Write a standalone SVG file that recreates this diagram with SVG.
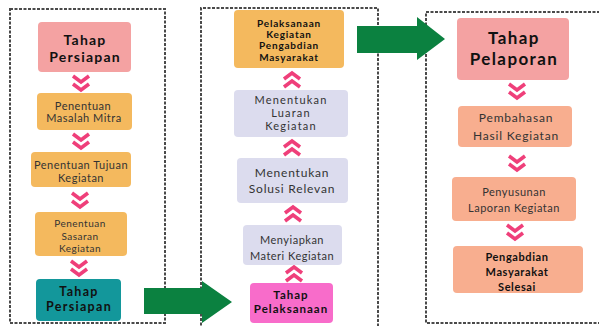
<svg xmlns="http://www.w3.org/2000/svg" width="599" height="326" viewBox="0 0 599 326">
<style>
.frame{fill:none;stroke:#4a4a4a;stroke-width:2;stroke-dasharray:3 1.5}
.pink{fill:#F4A2A2}
.orange{fill:#F4B95E}
.teal{fill:#13979B}
.lav{fill:#DCDCEE}
.mag{fill:#F86CCA}
.salmon{fill:#F8AE8F}
.arrow{fill:#0B8140}
.chev{fill:none;stroke:#EF3F7A;stroke-width:3.6;stroke-linejoin:miter}
text{font-family:Lato,"Open Sans","DejaVu Sans",sans-serif;fill:#222;text-anchor:middle}
.h{font-weight:bold;font-size:14px;letter-spacing:1.2px;fill:#111}
.h13{font-weight:bold;font-size:12.5px;letter-spacing:1.3px;fill:#111}
.hb{font-weight:bold;font-size:17px;letter-spacing:1.4px;fill:#111}
.r{font-size:11px;letter-spacing:0.5px;fill:#333}
.r12{font-size:12px;letter-spacing:0.8px;fill:#333}
.r11{font-size:11px;letter-spacing:1.2px;fill:#333}
.s{font-size:10px;letter-spacing:0.5px;fill:#333}
.b10{font-weight:bold;font-size:10px;letter-spacing:0.8px;fill:#111}
.b11{font-weight:bold;font-size:11px;letter-spacing:0.6px;fill:#111}
.b12{font-weight:bold;font-size:11.5px;letter-spacing:1px;fill:#111}
</style>
<defs>
<g id="down"><path class="chev" d="M-8,-7 L0,-1 L8,-7 M-8,1 L0,7 L8,1"/></g>
<g id="up"><path class="chev" d="M-8,7 L0,1 L8,7 M-8,-1 L0,-7 L8,-1"/></g>
</defs>

<g id="frames">
<rect class="frame" x="10" y="9" width="155" height="314"/>
<path class="frame" d="M201,330 L201,8 L378,8 L378,330"/>
<path class="frame" d="M600,12 L426,12 L426,323 L600,323"/>
</g>

<g id="connectors">
<use href="#down" x="81" y="83"/>
<use href="#down" x="81" y="141"/>
<use href="#down" x="80" y="200"/>
<use href="#down" x="79" y="268"/>
<use href="#up" x="292" y="80"/>
<use href="#up" x="292" y="148"/>
<use href="#up" x="293" y="214"/>
<use href="#up" x="294" y="274"/>
<use href="#down" x="517" y="91"/>
<use href="#down" x="517" y="163"/>
<use href="#down" x="515" y="232"/>
<polygon class="arrow" points="144,288 202,288 202,281 232,302 202,323 202,314 144,314"/>
<polygon class="arrow" points="357,26 417,26 417,17 445,39 417,60 417,53 357,53"/>
</g>

<g id="n1"><rect class="pink" x="38" y="22" width="93" height="50" rx="4"/>
<text class="h" x="85" y="45">Tahap</text><text class="h" x="85" y="62">Persiapan</text></g>
<g id="n2"><rect class="orange" x="37" y="93" width="95" height="37" rx="4"/>
<text class="r" x="83" y="110">Penentuan</text><text class="r" x="84" y="122">Masalah Mitra</text></g>
<g id="n3"><rect class="orange" x="31" y="152" width="100" height="35" rx="4"/>
<text class="r" x="81" y="169">Penentuan Tujuan</text><text class="r" x="81" y="182">Kegiatan</text></g>
<g id="n4"><rect class="orange" x="35" y="212" width="92" height="44" rx="4"/>
<text class="s" x="80" y="227">Penentuan</text><text class="s" x="80" y="240">Sasaran</text><text class="s" x="80" y="252">Kegiatan</text></g>
<g id="n5"><rect class="teal" x="36" y="279" width="85" height="42" rx="4"/>
<text class="h13" x="79" y="296">Tahap</text><text class="h13" x="79" y="311">Persiapan</text></g>

<g id="m1"><rect class="orange" x="234" y="10" width="110" height="58" rx="4"/>
<text class="b10" x="289" y="27">Pelaksanaan</text><text class="b10" x="289" y="38">Kegiatan</text><text class="b10" x="289" y="49">Pengabdian</text><text class="b10" x="289" y="61">Masyarakat</text></g>
<g id="m2"><rect class="lav" x="234" y="90" width="114" height="47" rx="4"/>
<text class="r11" x="291" y="104">Menentukan</text><text class="r11" x="291" y="117">Luaran</text><text class="r11" x="291" y="130">Kegiatan</text></g>
<g id="m3"><rect class="lav" x="237" y="158" width="111" height="45" rx="4"/>
<text class="r12" x="292" y="177">Menentukan</text><text class="r12" x="292" y="193">Solusi Relevan</text></g>
<g id="m4"><rect class="lav" x="243" y="225" width="99" height="40" rx="4"/>
<text class="r" x="292" y="244">Menyiapkan</text><text class="r" x="292" y="260">Materi Kegiatan</text></g>
<g id="m5"><rect class="mag" x="250" y="283" width="83" height="40" rx="4"/>
<text class="b12" x="291" y="299">Tahap</text><text class="b12" x="291" y="313">Pelaksanaan</text></g>

<g id="r1"><rect class="pink" x="457" y="18" width="112" height="62" rx="4"/>
<text class="hb" x="514" y="44">Tahap</text><text class="hb" x="514" y="65">Pelaporan</text></g>
<g id="r2"><rect class="salmon" x="458" y="106" width="114" height="41" rx="4"/>
<text class="r12" x="516" y="122">Pembahasan</text><text class="r12" x="516" y="140">Hasil Kegiatan</text></g>
<g id="r3"><rect class="salmon" x="452" y="177" width="124" height="44" rx="4"/>
<text class="r" x="514" y="196">Penyusunan</text><text class="r" x="514" y="212">Laporan Kegiatan</text></g>
<g id="r4"><rect class="salmon" x="453" y="246" width="130" height="47" rx="4"/>
<text class="b11" x="517" y="261">Pengabdian</text><text class="b11" x="517" y="276">Masyarakat</text><text class="b11" x="517" y="291">Selesai</text></g>
</svg>
